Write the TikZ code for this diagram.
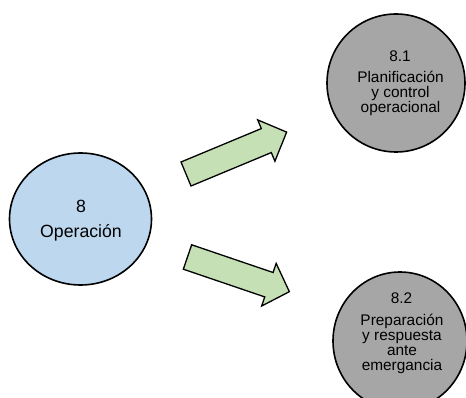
\documentclass[tikz,border=0pt]{standalone}
\usepackage{fontspec}
\setmainfont{Liberation Sans}
\usetikzlibrary{shapes.geometric}
\definecolor{blueF}{RGB}{189,215,238}
\definecolor{grayF}{RGB}{166,166,166}
\definecolor{greenF}{RGB}{197,224,180}
\begin{document}
\begin{tikzpicture}[x=1pt,y=-1pt,
  circ/.style={ellipse, draw=black, line width=1.6pt, inner sep=0pt},
  arr/.style={draw=black, line width=1.3pt, fill=greenF, line join=miter},
  lbl/.style={anchor=base, inner sep=0pt, align=center},
  bigf/.style={font=\fontsize{17.7}{20}\selectfont},
  smallf/.style={font=\fontsize{15.4}{15}\selectfont}]
\useasboundingbox (0,0) rectangle (466,398);
\fill[white] (0,0) rectangle (466,398);
% circles
\node[circ, fill=blueF, minimum width=142pt, minimum height=132pt] (op) at (80.5,219) {};
\node[circ, fill=grayF, minimum width=138pt, minimum height=138pt] (pc) at (396,83) {};
\node[circ, fill=grayF, minimum width=134pt, minimum height=138pt] (pr) at (400,341) {};
% texts (base of a multi-line node = baseline of its last line)
\node[lbl, bigf] (opn) at (81,212.7) {8};
\node[lbl, bigf] (opt) at (81,238) {Operación};
\node[lbl, smallf] (pcn) at (400,62) {8.1};
\node[lbl, smallf] (pct) at (400.5,113) {Planificación\\y control\\operacional};
\node[lbl, smallf] (prn) at (401.5,303) {8.2};
\node[lbl, smallf] (prt) at (402,370) {Preparación\\y respuesta\\ante\\emergancia};
% arrows
\begin{scope}[shift={(186,174)}, rotate=22.6]
  \draw[arr] (0,-13) -- (87,-13) -- (87,-22.4) -- (109,0) -- (87,22.4) -- (87,13) -- (0,13) -- cycle;
\end{scope}
\begin{scope}[shift={(187.5,257)}, rotate=-18.8]
  \draw[arr] (0,-12.9) -- (86,-12.9) -- (86,-22.5) -- (107.6,0) -- (86,22.5) -- (86,12.9) -- (0,12.9) -- cycle;
\end{scope}
\end{tikzpicture}
\end{document}
